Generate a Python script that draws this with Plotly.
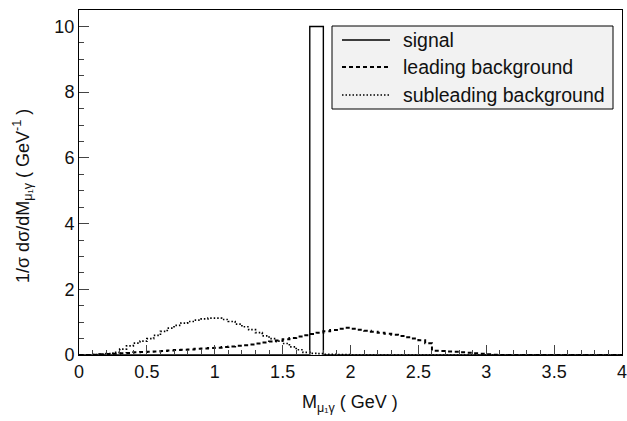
import numpy as np
import plotly.graph_objects as go

# ---- data (bin width 0.05 GeV, from 0 to 4 GeV) ----
bin_lo = 0.0
bin_width = 0.05

signal = [0.0] * 34 + [10.0, 10.0] + [0.0] * 44

leading = [0, 0, 0.01, 0.02, 0.03, 0.04, 0.05, 0.06, 0.08, 0.09,
           0.10, 0.11, 0.12, 0.14, 0.15, 0.16, 0.17, 0.19, 0.20, 0.21,
           0.22, 0.24, 0.26, 0.28, 0.30, 0.32, 0.35, 0.38, 0.41, 0.44,
           0.48, 0.52, 0.56, 0.60, 0.64, 0.68, 0.72, 0.76, 0.80, 0.83,
           0.80, 0.77, 0.74, 0.71, 0.68, 0.65, 0.62, 0.58, 0.54, 0.50,
           0.45, 0.36, 0.13, 0.12, 0.11, 0.10, 0.08, 0.07, 0.05, 0.04,
           0.02, 0.01, 0, 0, 0, 0, 0, 0, 0, 0,
           0, 0, 0, 0, 0, 0, 0, 0, 0, 0]

subleading = [0, 0, 0.01, 0.02, 0.04, 0.08, 0.18, 0.28, 0.36, 0.42,
              0.50, 0.60, 0.72, 0.82, 0.90, 0.97, 1.02, 1.06, 1.10, 1.12,
              1.12, 1.08, 1.02, 0.94, 0.86, 0.77, 0.68, 0.58, 0.50, 0.42,
              0.35, 0.25, 0.16, 0.08, 0.05, 0.04, 0.02, 0.02, 0.01, 0.01,
              0, 0, 0, 0, 0, 0, 0, 0, 0, 0,
              0, 0, 0, 0, 0, 0, 0, 0, 0, 0,
              0, 0, 0, 0, 0, 0, 0, 0, 0, 0,
              0, 0, 0, 0, 0, 0, 0, 0, 0, 0]

series_names = ["signal", "leading background", "subleading background"]

x_tickvals = [0, 0.5, 1, 1.5, 2, 2.5, 3, 3.5, 4]
x_ticktext = ["0", "0.5", "1", "1.5", "2", "2.5", "3", "3.5", "4"]
y_tickvals = [0, 2, 4, 6, 8, 10]
y_ticktext = ["0", "2", "4", "6", "8", "10"]

# ---- layout geometry (pixels) ----
W, H = 627, 421
ML, MR, MT, MB = 79, 5, 10, 66
PW, PH = W - ML - MR, H - MT - MB


def px(x):
    return (x - ML) / PW


def py(y):
    return (H - MB - y) / PH


def step(values):
    n = len(values)
    edges = bin_lo + bin_width * np.arange(n + 1)
    return list(edges), list(values) + [values[-1]]


styles = [("solid", 1.4), ("4px,3px", 2.0), ("1.5px,2px", 1.7)]

fig = go.Figure()
for name, vals, (dash, width) in zip(series_names, [signal, leading, subleading], styles):
    xs, ys = step(vals)
    fig.add_trace(go.Scatter(x=xs, y=ys, mode="lines", name=name, showlegend=False,
                             line=dict(color="black", width=width, dash=dash, shape="hv")))

font = "Liberation Sans, Arial, sans-serif"

# manual legend (ROOT-style box)
shapes = [dict(type="rect", xref="paper", yref="paper",
               x0=px(332), x1=px(613), y0=py(109), y1=py(26),
               fillcolor="#f2f2f2", line=dict(color="black", width=1), layer="above")]
annotations = []
row_y = [40, 67, 95]
for name, (dash, width), ry in zip(series_names, styles, row_y):
    shapes.append(dict(type="line", xref="paper", yref="paper",
                       x0=px(342), x1=px(390), y0=py(ry), y1=py(ry),
                       line=dict(color="black", width=width, dash=dash), layer="above"))
    annotations.append(dict(text=name, xref="paper", yref="paper", x=px(401), y=py(ry),
                            xanchor="left", yanchor="middle", showarrow=False,
                            font=dict(family=font, size=19.5, color="#111")))

# axis titles
annotations.append(dict(text="M<sub>μ₁γ</sub> ( GeV )", xref="paper", yref="paper",
                        x=px(350), y=py(403), xanchor="center", yanchor="middle",
                        showarrow=False, font=dict(family=font, size=18, color="#111")))
annotations.append(dict(text="1/σ dσ/dM<sub>μ₁γ</sub> ( GeV<sup>-1</sup> )", xref="paper", yref="paper",
                        x=px(22), y=py(196), xanchor="center", yanchor="middle", textangle=-90,
                        showarrow=False, font=dict(family=font, size=18, color="#111")))

fig.update_layout(
    width=W, height=H,
    margin=dict(l=ML, r=MR, t=MT, b=MB, autoexpand=False),
    plot_bgcolor="white", paper_bgcolor="white",
    font=dict(family=font, size=18, color="#111"),
    showlegend=False,
    shapes=shapes, annotations=annotations,
    xaxis=dict(range=[0, 4], tickvals=x_tickvals, ticktext=x_ticktext, automargin=False,
               ticks="inside", ticklen=10, tickcolor="#444", showgrid=False, ticklabeloverflow="allow",
               zeroline=False, showline=True, linecolor="black", linewidth=1, mirror=True,
               minor=dict(dtick=0.1, ticks="inside", ticklen=5, tickcolor="#444", showgrid=False)),
    yaxis=dict(range=[0, 10.5], tickvals=y_tickvals, ticktext=y_ticktext, automargin=False,
               ticks="inside", ticklen=10, tickcolor="#444", showgrid=False,
               zeroline=False, showline=True, linecolor="black", linewidth=1, mirror=True,
               minor=dict(dtick=0.5, ticks="inside", ticklen=5, tickcolor="#444", showgrid=False)),
)

fig.write_html("out.html", config={"displayModeBar": False},
               post_script="document.body.style.margin='0';document.body.style.padding='0';")
